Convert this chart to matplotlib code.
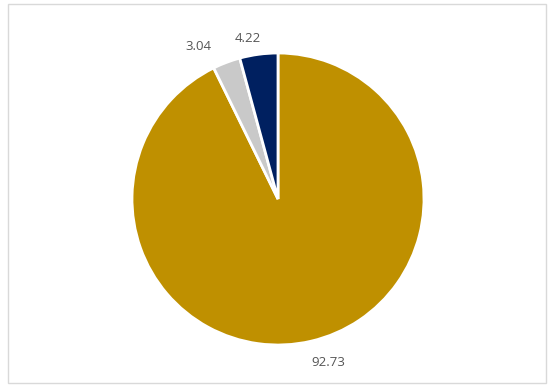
import matplotlib
matplotlib.use("Agg")
import matplotlib.pyplot as plt
from matplotlib.patches import Rectangle
import numpy as np

values = [92.73, 3.04, 4.22]
labels = ["92.73", "3.04", "4.22"]
colors = ["#BF9000", "#C9C9C9", "#002060"]

W, H = 554, 388
fig = plt.figure(figsize=(W / 100, H / 100), dpi=100)
ax = fig.add_axes([0, 0, 1, 1])

# chart frame
ax.add_patch(Rectangle((8, 5), 538, 379, fill=False, edgecolor="#D9D9D9", linewidth=1))

cx, cy, r = 278, 189, 146
wedges, _ = ax.pie(values, colors=colors, startangle=90, counterclock=False,
                   center=(cx, cy), radius=r, frame=True,
                   wedgeprops=dict(edgecolor="white", linewidth=2))
ax.set_xlim(0, W)
ax.set_ylim(0, H)
ax.axis("off")

# data labels outside each slice, nudged like a best-fit layout
shifts = [(4.0, 1.17), (7.0, 1.18), (3.0, 1.12)]
for w, lab, (dang, dist) in zip(wedges, labels, shifts):
    a = np.deg2rad((w.theta1 + w.theta2) / 2 + dang)
    ax.text(cx + dist * r * np.cos(a), cy + dist * r * np.sin(a), lab,
            ha="center", va="center", fontsize=9.5, color="#555555",
            family="Open Sans")

fig.savefig("out.png", dpi=100)
